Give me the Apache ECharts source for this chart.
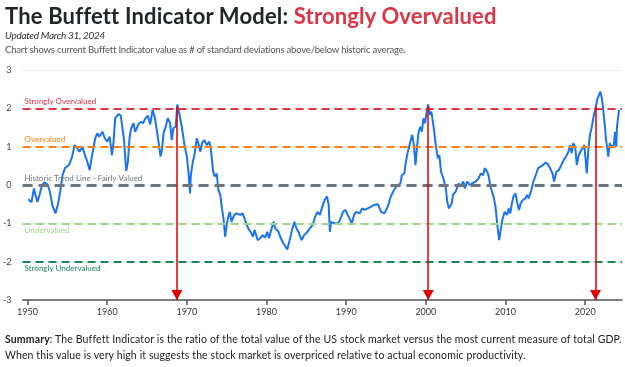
<!DOCTYPE html>
<html><head><meta charset="utf-8">
<script src="https://cdn.jsdelivr.net/npm/echarts@6/dist/echarts.min.js"></script>
<style>
html,body{margin:0;padding:0;background:#fff;width:625px;height:367px;overflow:hidden;font-family:'Lato','Noto Sans',sans-serif}
#chart{position:absolute;left:0;top:0;width:625px;height:367px}
.t{position:absolute;white-space:nowrap;line-height:1}
</style></head><body>
<div id="chart"></div>
<div class="t" id="title" data-w="490" style="left:5px;top:5px;font-size:22px;font-weight:700;color:#212529">The Buffett Indicator Model: <span style="color:#dc3545">Strongly Overvalued</span></div>
<div class="t" id="upd" data-w="100" style="left:5px;top:30px;font-size:10px;font-style:italic;color:#333">Updated March 31, 2024</div>
<div class="t" id="sub" data-w="400" style="left:5px;top:45px;font-size:9.5px;color:#555">Chart shows current Buffett Indicator value as # of standard deviations above/below historic average.</div>
<div class="t" id="sum1" data-w="616" style="left:5px;top:334px;font-size:10.5px;color:#222"><b>Summary</b>: The Buffett Indicator is the ratio of the total value of the US stock market versus the most current measure of total GDP.</div>
<div class="t" id="sum2" data-w="521" style="left:5px;top:350px;font-size:10.5px;color:#222">When this value is very high it suggests the stock market is overpriced relative to actual economic productivity.</div>
<script>
const years = [1950.1,1950.5,1950.8,1951.0,1951.25,1951.5,1951.8,1952.1,1952.5,1952.8,1953.1,1953.5,1953.8,1954.1,1954.4,1954.7,1955.2,1955.6,1955.9,1956.25,1956.5,1956.9,1957.2,1957.5,1957.8,1958.1,1958.5,1958.75,1959.0,1959.4,1959.7,1960.0,1960.3,1960.6,1960.8,1961.0,1961.4,1961.7,1961.9,1962.1,1962.3,1962.4,1962.6,1962.8,1963.0,1963.3,1963.5,1963.9,1964.2,1964.5,1964.8,1965.1,1965.4,1965.7,1966.0,1966.25,1966.5,1966.7,1966.9,1967.1,1967.3,1967.6,1967.9,1968.1,1968.3,1968.6,1968.8,1969.0,1969.4,1969.7,1970.0,1970.2,1970.4,1970.5,1970.75,1970.95,1971.25,1971.5,1971.7,1971.9,1972.2,1972.5,1972.8,1973.0,1973.3,1973.5,1973.75,1973.95,1974.2,1974.4,1974.6,1974.8,1975.0,1975.2,1975.4,1975.6,1975.95,1976.25,1976.7,1977.0,1977.3,1977.7,1978.1,1978.3,1978.5,1978.9,1979.2,1979.5,1979.8,1980.1,1980.3,1980.6,1980.9,1981.1,1981.5,1981.8,1982.1,1982.4,1982.6,1982.9,1983.2,1983.5,1983.75,1984.0,1984.4,1984.7,1985.0,1985.3,1985.5,1985.8,1986.1,1986.4,1986.7,1987.0,1987.3,1987.6,1987.8,1987.95,1988.1,1988.5,1988.75,1989.0,1989.3,1989.6,1989.9,1990.1,1990.4,1990.7,1991.0,1991.25,1991.7,1992.0,1992.3,1992.7,1993.1,1993.5,1993.96,1994.4,1994.8,1995.2,1995.6,1996.0,1996.5,1996.8,1997.0,1997.3,1997.5,1997.7,1997.9,1998.1,1998.3,1998.5,1998.7,1998.9,1999.1,1999.3,1999.5,1999.7,1999.9,2000.1,2000.3,2000.5,2000.7,2001.0,2001.25,2001.5,2001.7,2001.9,2002.2,2002.5,2002.7,2002.9,2003.0,2003.25,2003.4,2003.75,2004.1,2004.4,2004.7,2004.9,2005.2,2005.5,2005.8,2006.25,2006.6,2006.9,2007.2,2007.4,2007.7,2007.9,2008.1,2008.3,2008.5,2008.75,2008.95,2009.2,2009.4,2009.6,2009.9,2010.2,2010.4,2010.6,2010.8,2011.0,2011.25,2011.5,2011.7,2011.9,2012.2,2012.5,2012.7,2012.9,2013.25,2013.5,2013.8,2014.1,2014.4,2014.7,2015.0,2015.3,2015.6,2015.9,2016.1,2016.4,2016.7,2017.0,2017.3,2017.6,2017.9,2018.1,2018.3,2018.5,2018.75,2018.95,2019.2,2019.4,2019.6,2019.9,2020.1,2020.2,2020.4,2020.6,2020.8,2021.1,2021.3,2021.5,2021.75,2021.9,2022.1,2022.3,2022.5,2022.6,2022.8,2022.9,2023.1,2023.3,2023.6,2023.75,2023.9,2024.0,2024.25];
const values = [-0.37,-0.45,-0.09,-0.26,-0.44,-0.26,-0.02,0.07,0.02,-0.17,-0.52,-0.74,-0.52,-0.17,0.26,0.44,0.52,0.74,1.04,0.96,0.87,1.0,0.78,0.61,0.39,0.78,1.22,1.35,1.26,1.39,1.22,1.13,1.26,0.78,1.13,1.74,1.85,1.81,1.76,1.2,0.6,0.37,0.61,1.22,1.48,1.61,1.39,1.57,1.65,1.61,1.74,1.81,1.58,1.96,1.74,1.39,1.04,0.74,0.96,1.39,1.48,1.74,1.61,1.17,1.48,1.52,2.1,1.91,1.48,1.04,0.74,0.35,-0.22,0.26,0.61,0.78,1.22,1.04,0.87,1.09,1.17,1.04,1.13,0.96,0.35,0.22,0.30,-0.13,-0.26,-0.61,-0.87,-1.35,-1.04,-0.83,-0.70,-0.96,-0.78,-0.74,-0.78,-0.74,-0.91,-1.13,-1.26,-1.35,-1.17,-1.44,-1.39,-1.31,-1.37,-1.22,-1.39,-1.17,-0.96,-1.13,-1.22,-1.39,-1.52,-1.61,-1.68,-1.44,-1.17,-0.96,-1.13,-1.22,-1.44,-1.31,-1.26,-1.17,-1.17,-1.04,-0.83,-0.70,-0.78,-0.57,-0.39,-0.30,-0.52,-1.22,-0.96,-1.0,-0.96,-1.0,-0.87,-0.70,-0.65,-0.70,-0.87,-1.0,-0.78,-0.70,-0.74,-0.61,-0.65,-0.61,-0.57,-0.52,-0.50,-0.70,-0.74,-0.57,-0.30,-0.13,0.0,0.04,0.26,0.30,0.61,0.83,0.78,1.17,1.31,1.04,0.52,1.0,1.39,1.52,1.39,1.74,1.61,1.91,2.1,1.83,1.91,1.48,1.04,0.70,0.78,0.35,0.17,-0.08,-0.45,-0.61,-0.63,-0.48,-0.26,-0.17,0.04,-0.04,0.09,-0.09,0.09,0.0,0.04,0.09,0.17,0.30,0.26,0.44,0.35,0.22,-0.04,0.0,-0.30,-0.57,-1.0,-1.44,-1.17,-0.91,-0.70,-0.78,-0.61,-0.74,-0.48,-0.30,-0.22,-0.48,-0.65,-0.48,-0.39,-0.35,-0.26,-0.35,-0.13,0.09,0.26,0.44,0.48,0.52,0.58,0.55,0.44,0.30,0.09,0.35,0.39,0.52,0.65,0.74,0.87,1.04,0.83,1.09,1.0,0.52,0.78,0.87,0.91,1.04,1.09,0.30,0.91,1.31,1.48,1.83,2.0,2.22,2.35,2.44,2.26,1.91,1.48,1.22,0.91,0.74,1.09,1.0,1.04,1.39,1.0,1.52,1.96];
const xTickYears = [1950,1960,1970,1980,1990,2000,2010,2020];
const yMin = -3, yMax = 3;
const zoneValues = [2, 1, 0, -1, -2];
const zoneLabels = ['Strongly Overvalued','Overvalued','Historic Trend Line - Fairly Valued','Undervalued','Strongly Undervalued'];
const arrowYears = [1968.75, 2000.3, 2021.3];
const arrowTop = 2.05;

const zoneColors = ['#dc3545','#fd7e14','#6c757d','#9ed58a','#198754'];
const zoneLabelColors = ['#dc3545','#fd7e14','#6c757d','#9ed58a','#198754'];
const zoneWidths = [2,2,3,2,2];

const chart = echarts.init(document.getElementById('chart'), null, {renderer:'canvas'});
const option = {
  animation:false,
  grid:{left:20,right:3,top:70,bottom:67},
  xAxis:{type:'value',min:1949.375,max:2024.625,
    axisLine:{show:true,onZero:false,lineStyle:{color:'#555',width:1.5}},
    axisTick:{show:true,customValues:xTickYears,length:5,lineStyle:{color:'#555',width:1.5}},
    axisLabel:{customValues:xTickYears,fontSize:9,color:'#333',margin:8,fontFamily:'Lato',
      formatter:v=>String(Math.round(v))},
    splitLine:{show:false}},
  yAxis:{type:'value',min:yMin,max:yMax,interval:1,
    axisLine:{show:false},axisTick:{show:false},
    axisLabel:{fontSize:9,color:'#444',margin:11,fontFamily:'Lato'},
    splitLine:{lineStyle:{color:'#ebebeb',width:1}}},
  series:[
    {type:'line',data:[],z:1,silent:true,
     markLine:{silent:true,symbol:'none',animation:false,
      data:zoneValues.map((v,i)=>({yAxis:v,name:zoneLabels[i],
        lineStyle:{color:zoneColors[i],width:zoneWidths[i],type:i===2?[10,6]:[8,5]},
        label:{show:true,formatter:zoneLabels[i],position:i<3?'insideStartTop':'insideStartBottom',
          color:zoneLabelColors[i],fontSize:8,fontFamily:'Lato',distance:[2,3]}}))}},
    {type:'line',data:years.map((y,i)=>[y,values[i]]),z:3,showSymbol:false,smooth:false,
     lineStyle:{color:'#1a73ef',width:2},silent:true},
    {type:'line',data:[],z:4,silent:true,
     markLine:{silent:true,animation:false,symbol:['none','triangle'],symbolSize:[11,10],
      symbolOffset:[[0,0],[0,5]],
      lineStyle:{color:'#e00000',width:1.5,type:'solid'},label:{show:false},
      data:arrowYears.map(x=>[{coord:[x,arrowTop]},{coord:[x,yMin]}])}}
  ]
};
chart.setOption(option);

function fit(){
  document.querySelectorAll('.t').forEach(el=>{
    const target=+el.dataset.w;
    el.style.letterSpacing='0px';
    const w=el.getBoundingClientRect().width;
    const n=el.textContent.length;
    el.style.letterSpacing=((target-w)/n)+'px';
  });
}
fit();
if(document.fonts&&document.fonts.ready)document.fonts.ready.then(fit);
</script>
</body></html>
